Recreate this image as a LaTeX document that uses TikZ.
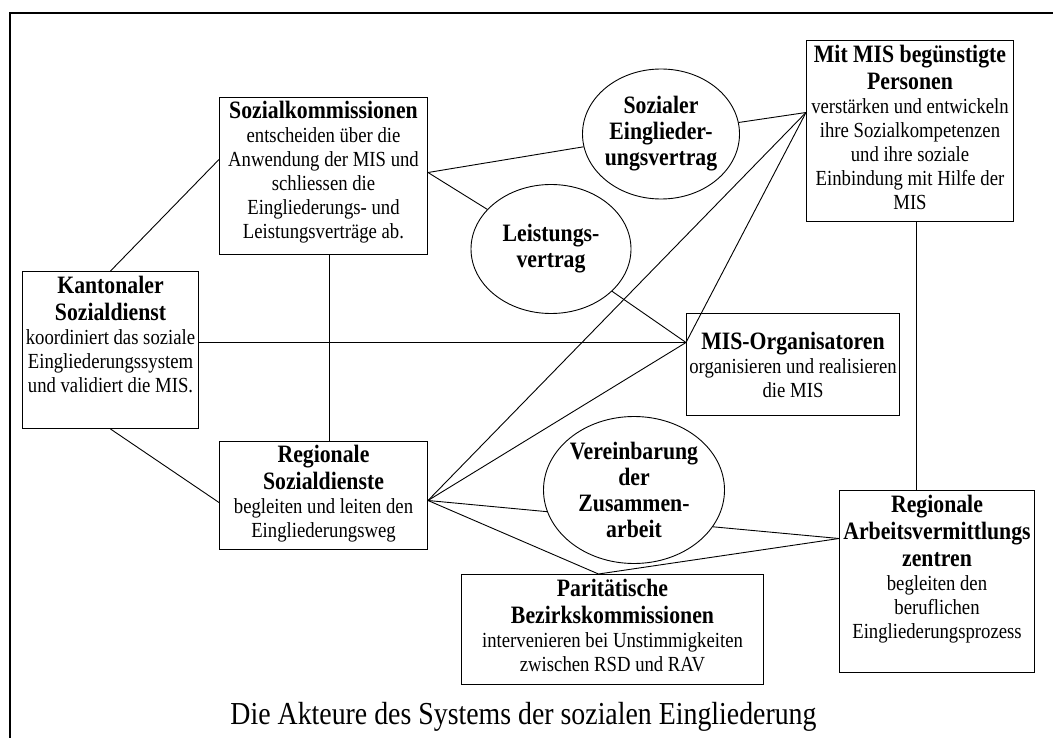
\documentclass[tikz,border=0pt]{standalone}
\usepackage{fontspec}
\setmainfont{Liberation Serif}[FakeStretch=0.87]
\usetikzlibrary{shapes.geometric,calc}
\newcommand\hdfont{\fontsize{25}{27}\selectfont\bfseries}
\newcommand\bdfont{\fontsize{21.5}{24}\selectfont}
\newcommand\ellfont{\fontsize{25}{26}\selectfont\bfseries}
\newcommand\mybox[4]{\parbox[c][#2][t]{#1}{\centering\vspace*{#3}#4}}
\begin{document}
\begin{tikzpicture}[x=1pt,y=-1pt,
  box/.style={draw,line width=1pt,inner sep=0pt,anchor=north west},
  ell/.style={draw,ellipse,line width=0.9pt,inner sep=-14pt,align=center,font=\ellfont},
  link/.style={line width=0.9pt},
  frame/.style={line width=2pt}]
\useasboundingbox (0,0) rectangle (1053,738);
\coordinate (fb) at (10,740);
\coordinate (ftl) at (10,13);
\coordinate (fr) at (1055,13);
\draw[frame] (fb) -- (ftl) -- (fr);

% boxes
\node[box] (sk) at (219,97) {\mybox{208pt}{157pt}{4pt}{{\hdfont Sozialkommissionen\par}{\bdfont entscheiden über die\\Anwendung der MIS und\\schliessen die\\Eingliederungs- und\\Leistungsverträge ab.\par}}};
\node[box] (ks) at (22,271) {\mybox{176pt}{157pt}{5pt}{{\hdfont Kantonaler\\Sozialdienst\par}{\bdfont koordiniert das soziale\\Eingliederungssystem\\und validiert die MIS.\par}}};
\node[box] (rsd) at (219,441) {\mybox{208pt}{108pt}{4pt}{{\hdfont Regionale\\Sozialdienste\par}{\bdfont begleiten und leiten den\\Eingliederungsweg\par}}};
\node[box] (mm) at (806,40) {\mybox{207pt}{181pt}{5pt}{{\hdfont Mit MIS begünstigte\\Personen\par}{\bdfont verstärken und entwickeln\\ihre Sozialkompetenzen\\und ihre soziale\\Einbindung mit Hilfe der\\MIS\par}}};
\node[box] (mo) at (686,313) {\mybox{213pt}{102pt}{19pt}{{\hdfont MIS-Organisatoren\par}{\bdfont organisieren und realisieren\\die MIS\par}}};
\node[box] (ar) at (839,490) {\mybox{195pt}{182pt}{5pt}{{\hdfont Regionale\\Arbeitsvermittlungs\\zentren\par}{\bdfont begleiten den\\beruflichen\\Eingliederungsprozess\par}}};
\node[box] (pb) at (461,574) {\mybox{302pt}{110pt}{5pt}{{\hdfont Paritätische\\Bezirkskommissionen\par}{\bdfont intervenieren bei Unstimmigkeiten\\zwischen RSD und RAV\par}}};

% ellipses
\node[ell,minimum width=157pt,minimum height=130pt] (sev) at (661,134) {Sozialer\\Einglieder-\\ungsvertrag};
\node[ell,minimum width=160pt,minimum height=129pt] (lv) at (551,249) {Leistungs-\\vertrag};
\node[ell,minimum width=181pt,minimum height=147pt] (ver) at (634,490) {Vereinbarung\\der\\Zusammen-\\arbeit};

% caption
\node[anchor=base,inner sep=0pt,font=\fontsize{32}{36}\selectfont] (cap) at (523.5,724) {Die Akteure des Systems der sozialen Eingliederung};

% connection points
\coordinate (skL) at ($(sk.west)+(0,-16.5)$);
\coordinate (skR) at ($(sk.east)+(0,-3.5)$);
\coordinate (skB) at ($(sk.south)+(6,0)$);
\coordinate (ksR) at ($(ks.east)+(0,-7.5)$);
\coordinate (rsdT) at ($(rsd.north)+(6,0)$);
\coordinate (rsdL) at ($(rsd.west)+(0,7)$);
\coordinate (rsdR) at ($(rsd.east)+(0,5)$);
\coordinate (mmL) at ($(mm.west)+(0,-18.5)$);
\coordinate (mmB) at ($(mm.south)+(6.5,0)$);
\coordinate (moL) at ($(mo.west)+(0,-22)$);
\coordinate (arL) at ($(ar.west)+(0,-43)$);
\coordinate (pbT) at ($(pb.north)+(-14,0)$);

% connectors
\draw[link] (ks.north) -- (skL);
\draw[link] (ks.south) -- (rsdL);
\draw[link] (ksR) -- (ksR -| moL);
\draw[link] (skB) -- (skB |- rsdT);
\draw[link] (skR) -- (sev);
\draw[link] (skR) -- (lv);
\draw[link] (sev) -- (mmL);
\draw[link] (lv) -- (moL);
\draw[link] (moL) -- (mmL);
\draw[link] (rsdR) -- (mmL);
\draw[link] (rsdR) -- (moL);
\draw[link] (rsdR) -- (ver.194);
\draw[link] (rsdR) -- (pbT);
\draw[link] (ver.-25) -- (arL);
\draw[link] (pbT) -- (arL);
\draw[link] (mmB) -- (mmB |- ar.north);
\end{tikzpicture}
\end{document}
